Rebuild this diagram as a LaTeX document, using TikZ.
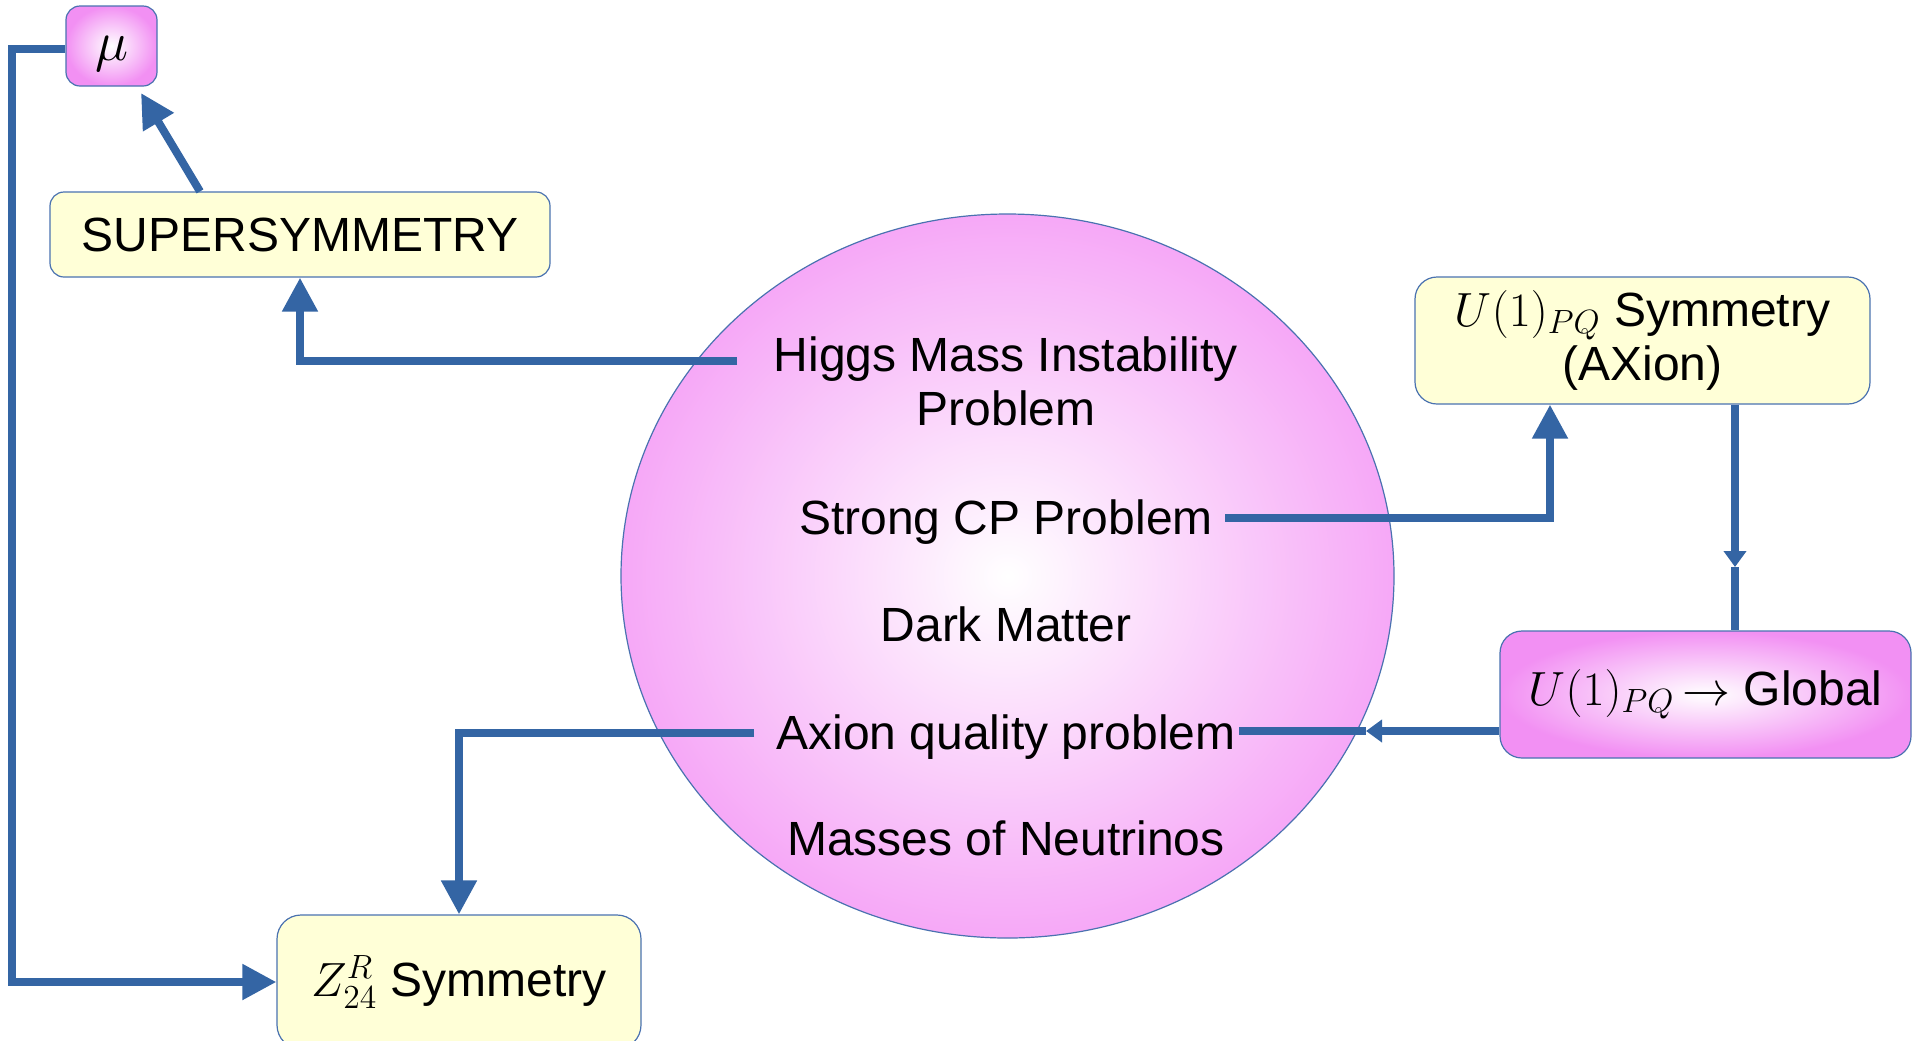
\RequirePackage{fix-cm}
\documentclass[tikz,border=0pt]{standalone}
\usepackage{fontspec}
\setmainfont{Liberation Sans}
\usetikzlibrary{arrows.meta,shapes.geometric}
\definecolor{linkblue}{HTML}{3465A4}
\definecolor{boxyellow}{HTML}{FFFFD7}
\definecolor{edgeblue}{HTML}{4A72B0}
\definecolor{orchid}{HTML}{F6A8F7}
\definecolor{orchiddeep}{HTML}{F290F3}
\tikzset{
  conn/.style={linkblue, line width=4pt},
  headtip/.style={-{Triangle[length=17pt,width=17pt]}},
  midtip/.style={-{Triangle[length=8pt,width=11pt]}},
  yellowbox/.style={draw=edgeblue, line width=0.6pt, fill=boxyellow,
    rounded corners=#1, inner sep=0pt, align=center},
  pinkbox/.style={draw=edgeblue, line width=0.6pt, inner color=white,
    outer color=orchiddeep, rounded corners=#1, inner sep=0pt, align=center},
  txt/.style={font=\fontsize{24}{27}\selectfont},
  problem/.style={txt, anchor=base, inner sep=0pt},
}
\begin{document}
\begin{tikzpicture}[x=0.5pt, y=-0.5pt, txt]
\clip (0,0) rectangle (1921,1040);

% central ellipse with the open problems
\node[ellipse, draw=edgeblue, line width=0.6pt, inner color=white,
      outer color=orchid, minimum width=386.5pt, minimum height=362pt,
      inner sep=0pt] (core) at (1007.5,576) {};
\node[problem] (higgs)    at (1006,371) {Higgs Mass Instability};
\node[problem] (higgsb)   at (1006,425) {Problem};
\node[problem] (strongcp) at (1006,534) {Strong CP Problem};
\node[problem] (dm)       at (1006,641) {Dark Matter};
\node[problem] (aqp)      at (1006,749) {Axion quality problem};
\node[problem] (nu)       at (1006,855) {Masses of Neutrinos};

% surrounding boxes
\node[pinkbox=7pt, minimum width=45.5pt, minimum height=40pt,
      text height=14pt, text depth=0pt,
      font=\fontsize{28}{32}\selectfont] (mu) at (111.5,46) {$\mu$};
\node[yellowbox=7pt, minimum width=250pt, minimum height=42.5pt]
      (susy) at (300,234.5) {SUPERSYMMETRY};
\node[yellowbox=11pt, minimum width=227.5pt, minimum height=63.5pt]
      (u1) at (1642.5,340.5) {$U(1)_{PQ}$ Symmetry\\(AXion)};
\node[pinkbox=11pt, minimum width=205.5pt, minimum height=63.5pt]
      (glob) at (1705.5,694.5) {$U(1)_{PQ}\,{\rightarrow}$ Global};
\node[yellowbox=12pt, minimum width=182pt, minimum height=67pt]
      (zsym) at (459,982) {$Z_{24}^{R}$ Symmetry};

% connectors
\coordinate (higgsL) at (737,361);
\draw[conn, headtip] (higgsL) -| (susy.south);

\coordinate (muTip) at (141,93);
\draw[conn, headtip] ([xshift=-50pt]susy.north) -- (muTip);

\draw[conn, headtip] ([yshift=-1.5pt]mu.west) -- ++(-53,0) |- (zsym.west);

\coordinate (cpR) at (1225,518);
\draw[conn, headtip] (cpR) -| ([xshift=-46.25pt]u1.south);

\coordinate (pqTip) at (1735,567);
\draw[conn, midtip] ([xshift=46.25pt]u1.south) -- (pqTip);
\draw[conn] (pqTip) -- (glob.north -| pqTip);

\coordinate (gTip) at (1366,731);
\coordinate (aqpR) at (1239,731);
\draw[conn, midtip] (glob.west |- gTip) -- (gTip);
\draw[conn] (gTip) -- (aqpR);

\coordinate (aqpL) at (754,733);
\draw[conn, headtip] (aqpL) -| (zsym.north);
\end{tikzpicture}
\end{document}
